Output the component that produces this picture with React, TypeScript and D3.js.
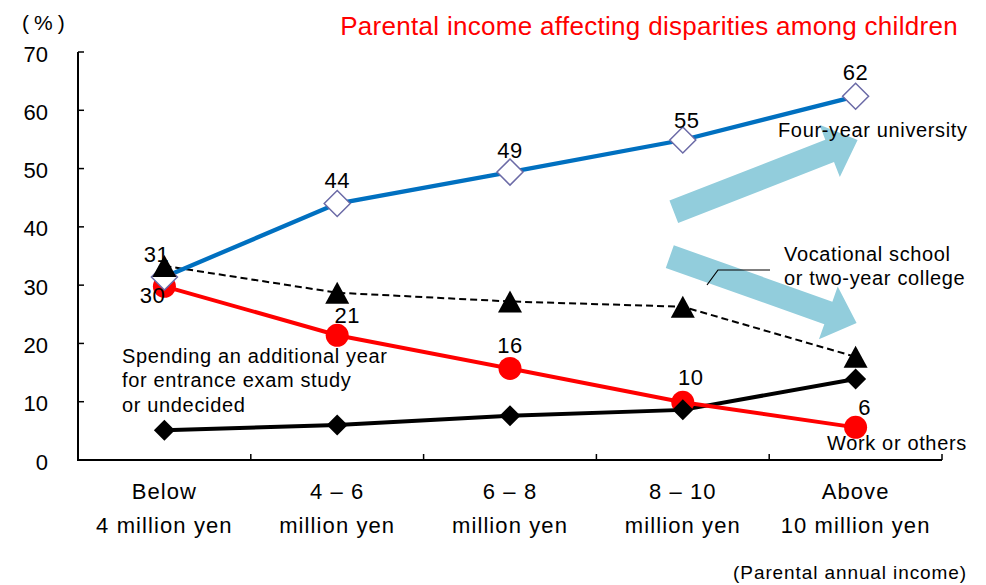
import React from "react";
import * as d3 from "d3";

const categories = [
  ["Below", "4 million yen"],
  ["4 – 6", "million yen"],
  ["6 – 8", "million yen"],
  ["8 – 10", "million yen"],
  ["Above", "10 million yen"],
];
const yTicks = [0, 10, 20, 30, 40, 50, 60, 70];

const university = [31.4, 44.0, 49.4, 54.9, 62.4];
const vocational = [33.3, 28.7, 27.2, 26.3, 17.7];
const workOthers = [29.8, 21.4, 15.7, 9.9, 5.6];
const extraYear = [5.1, 6.0, 7.6, 8.6, 13.9];

const universityLabels = ["31", "44", "49", "55", "62"];
const workLabels = ["30", "21", "16", "10", "6"];

// label offsets from the marker centre
const universityLabelOffsets = [[-8, -15], [0, -16], [0, -14], [4, -12], [0, -16]];
const workLabelOffsets = [[-12, 17], [10, -12], [0, -15], [8, -17], [9, -12]];

const W = 986;
const H = 585;
const margin = { top: 52, right: 44, bottom: 125, left: 78 };

const sans = "'Liberation Sans', Arial, sans-serif";

function arrowPath(x1: number, y1: number, x2: number, y2: number, shaft: number, headW: number, headL: number) {
  const dx = x2 - x1, dy = y2 - y1;
  const len = Math.hypot(dx, dy);
  const ux = dx / len, uy = dy / len;
  const nx = -uy, ny = ux;
  const bx = x2 - ux * headL, by = y2 - uy * headL;
  const p = [
    [x1 + nx * shaft / 2, y1 + ny * shaft / 2],
    [bx + nx * shaft / 2, by + ny * shaft / 2],
    [bx + nx * headW / 2, by + ny * headW / 2],
    [x2, y2],
    [bx - nx * headW / 2, by - ny * headW / 2],
    [bx - nx * shaft / 2, by - ny * shaft / 2],
    [x1 - nx * shaft / 2, y1 - ny * shaft / 2],
  ];
  return "M" + p.map(q => q.join(",")).join("L") + "Z";
}

export default function App() {
  const x = d3.scaleBand<number>()
    .domain(d3.range(categories.length))
    .range([margin.left, W - margin.right]);
  const y = d3.scaleLinear().domain([0, 70]).range([H - margin.bottom, margin.top]);
  const cx = (i: number) => x(i)! + x.bandwidth() / 2;

  const line = d3.line<number>().x((_, i) => cx(i)).y(d => y(d));

  const diamond = (r: number) => `M0,${-r}L${r},0L0,${r}L${-r},0Z`;
  const triangle = "M0,-11L12,11L-12,11Z";

  const x0 = H - margin.bottom;

  return (
    <svg width={W} height={H} style={{ position: "absolute", left: 0, top: 0, background: "#fff" }} fontFamily={sans}>
      {/* title */}
      <text x={958} y={35} textAnchor="end" fill="#ff0000" fontSize={26} letterSpacing={0.3}>
        Parental income affecting disparities among children
      </text>
      <text x={22} y={30} fontSize={21} letterSpacing={5}>(%)</text>

      {/* y axis */}
      <line x1={margin.left} x2={margin.left} y1={y(70)} y2={x0} stroke="#000" strokeWidth={2} />
      {yTicks.map(t => (
        <g key={t}>
          <line x1={margin.left} x2={margin.left + 6} y1={y(t)} y2={y(t)} stroke="#000" strokeWidth={1.5} />
          <text x={48} y={y(t) + 9.5} textAnchor="end" fontSize={22}>{t}</text>
        </g>
      ))}

      {/* x axis */}
      <line x1={margin.left - 1} x2={W - margin.right} y1={x0} y2={x0} stroke="#000" strokeWidth={2} />
      {d3.range(1, categories.length + 1).map(i => {
        const xx = i < categories.length ? x(i)! : W - margin.right;
        return <line key={i} x1={xx} x2={xx} y1={x0} y2={x0 - 6} stroke="#000" strokeWidth={1.5} />;
      })}
      {categories.map((c, i) => (
        <text key={i} x={cx(i)} textAnchor="middle" fontSize={22} letterSpacing={1.1}>
          <tspan x={cx(i)} y={499}>{c[0]}</tspan>
          <tspan x={cx(i)} y={533}>{c[1]}</tspan>
        </text>
      ))}
      <text x={967} y={579} textAnchor="end" fontSize={19} letterSpacing={0.9}>(Parental annual income)</text>

      {/* arrows */}
      <path d={arrowPath(cx(3) - 9, y(42.6), cx(4) + 2, y(54.9), 24, 56, 30)} fill="#92cddc" />
      <path d={arrowPath(cx(3) - 13, y(34.9), cx(4) + 1, y(23.5), 24, 56, 30)} fill="#92cddc" />

      {/* callout */}
      <polyline points="707,285 718,270 770,270" fill="none" stroke="#000" strokeWidth={1.2} />

      {/* series lines */}
      <path d={line(extraYear)!} fill="none" stroke="#000" strokeWidth={4} />
      <path d={line(workOthers)!} fill="none" stroke="#ff0000" strokeWidth={4} />
      <path d={line(vocational)!} fill="none" stroke="#000" strokeWidth={2} strokeDasharray="7,4" />
      <path d={line(university)!} fill="none" stroke="#0070c0" strokeWidth={4.3} />

      {/* markers */}
      {workOthers.map((v, i) => (
        <circle key={"w" + i} cx={cx(i)} cy={y(v)} r={11.5} fill="#ff0000" />
      ))}
      {university.map((v, i) => (
        <path key={"u" + i} d={diamond(13)} transform={`translate(${cx(i)},${y(v)})`} fill="#fff" stroke="#6b6aa6" strokeWidth={1.5} />
      ))}
      {vocational.map((v, i) => (
        <path key={"v" + i} d={triangle} transform={`translate(${cx(i)},${y(v)})`} fill="#000" />
      ))}
      {extraYear.map((v, i) => (
        <path key={"e" + i} d={diamond(10.5)} transform={`translate(${cx(i)},${y(v)})`} fill="#000" />
      ))}

      {/* value labels */}
      {university.map((v, i) => (
        <text key={"ul" + i} x={cx(i) + universityLabelOffsets[i][0]} y={y(v) + universityLabelOffsets[i][1]} textAnchor="middle" fontSize={22} letterSpacing={0.5}>
          {universityLabels[i]}
        </text>
      ))}
      {workOthers.map((v, i) => (
        <text key={"wl" + i} x={cx(i) + workLabelOffsets[i][0]} y={y(v) + workLabelOffsets[i][1]} textAnchor="middle" fontSize={22} letterSpacing={0.5}>
          {workLabels[i]}
        </text>
      ))}

      {/* annotations */}
      <g fontSize={20} letterSpacing={0.65}>
        <text x={778} y={137}>Four-year university</text>
        <text>
          <tspan x={784} y={261}>Vocational school</tspan>
          <tspan x={784} y={285}>or two-year college</tspan>
        </text>
        <text>
          <tspan x={122} y={363}>Spending an additional year</tspan>
          <tspan x={122} y={387}>for entrance exam study</tspan>
          <tspan x={122} y={412}>or undecided</tspan>
        </text>
        <text x={827} y={450}>Work or others</text>
      </g>
    </svg>
  );
}
